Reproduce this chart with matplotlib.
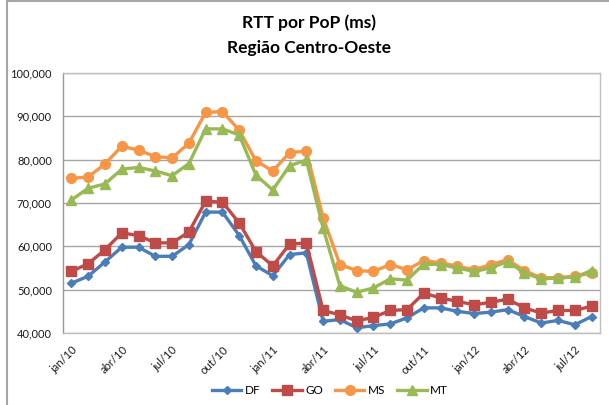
import matplotlib
matplotlib.use("Agg")
import matplotlib.pyplot as plt
from matplotlib.lines import Line2D
from matplotlib.ticker import FuncFormatter

# Dados
months = ["jan/10", "fev/10", "mar/10", "abr/10", "mai/10", "jun/10", "jul/10", "ago/10",
          "set/10", "out/10", "nov/10", "dez/10", "jan/11", "fev/11", "mar/11", "abr/11",
          "mai/11", "jun/11", "jul/11", "ago/11", "set/11", "out/11", "nov/11", "dez/11",
          "jan/12", "fev/12", "mar/12", "abr/12", "mai/12", "jun/12", "jul/12", "ago/12"]

df = [51.5, 53.1, 56.4, 59.8, 59.8, 57.7, 57.7, 60.4, 67.9, 67.9, 62.5, 55.5, 53.2, 58.1, 58.5,
      42.7, 43.1, 41.2, 41.7, 42.1, 43.5, 45.8, 45.8, 45.0, 44.5, 44.8, 45.4, 43.8, 42.3, 42.9,
      41.9, 43.8]
go = [54.2, 56.0, 59.2, 63.1, 62.5, 60.8, 60.8, 63.3, 70.4, 70.2, 65.4, 58.8, 55.5, 60.5, 60.8,
      45.2, 44.2, 42.8, 43.6, 45.2, 45.4, 49.2, 48.1, 47.3, 46.5, 47.1, 47.8, 45.8, 44.6, 45.2,
      45.2, 46.2]
ms = [75.7, 76.0, 79.0, 83.1, 82.2, 80.7, 80.4, 83.8, 90.9, 91.1, 86.8, 79.7, 77.4, 81.6, 82.0,
      66.6, 55.8, 54.4, 54.2, 55.8, 54.6, 56.7, 56.2, 55.4, 54.6, 55.8, 56.9, 54.4, 52.7, 52.8,
      53.1, 53.8]
mt = [70.7, 73.4, 74.4, 77.8, 78.2, 77.4, 76.3, 79.1, 87.1, 87.1, 85.7, 76.4, 73.0, 78.6, 79.9,
      64.2, 50.9, 49.4, 50.4, 52.5, 52.2, 55.9, 55.8, 55.0, 54.2, 55.0, 56.5, 53.8, 52.5, 52.7,
      52.9, 54.4]

series = [
    ("DF", df, "#4A7EBB", "D", 4.5),
    ("GO", go, "#BE4B48", "s", 6.5),
    ("MS", ms, "#F79646", "o", 7),
    ("MT", mt, "#98B954", "^", 7),
]

plt.rcParams["font.family"] = ["Lato", "DejaVu Sans"]

fig = plt.figure(figsize=(6.09, 4.05), dpi=100, facecolor="white")
ax = fig.add_axes([63 / 609, 1 - 333 / 405, 537 / 609, 260 / 405])

x = list(range(len(months)))
for name, vals, color, marker, ms_ in series:
    ax.plot(x, [v * 1000 for v in vals], color=color, linewidth=2.4,
            marker=marker, markersize=ms_, markerfacecolor=color,
            markeredgecolor=color, label=name, zorder=3)

ax.set_xlim(-0.5, len(months) - 0.5)
ax.set_ylim(40000, 100000)
ax.set_yticks(range(40000, 100001, 10000))
ax.yaxis.set_major_formatter(FuncFormatter(lambda v, p: f"{int(v):,}"))
ax.set_xticks(x[::3])
ax.set_xticklabels(months[::3], rotation=45, ha="right", rotation_mode="anchor")
ax.tick_params(axis="both", length=0, labelsize=8, colors="#1a1a1a")
ax.tick_params(axis="x", pad=8)
ax.tick_params(axis="y", pad=8)
ax.yaxis.grid(True, color="#A6A6A6", linewidth=1)
ax.set_axisbelow(True)
for spine in ax.spines.values():
    spine.set_color("#BFBFBF")
    spine.set_linewidth(1)
ax.spines["left"].set_color("#999999")

fig.text(309 / 609, 1 - 23 / 405, "RTT por PoP (ms)", ha="center", va="center",
         fontsize=12.5, fontweight="bold", color="black")
fig.text(309 / 609, 1 - 48 / 405, "Região Centro-Oeste", ha="center", va="center",
         fontsize=12.5, fontweight="bold", color="black")

handles = [Line2D([0], [0], color=c, linewidth=2.4, marker=m, markersize=s,
                  markerfacecolor=c, markeredgecolor=c, label=n)
           for n, _, c, m, s in series]
fig.legend(handles=handles, loc="center", bbox_to_anchor=(330 / 609, 1 - 391 / 405),
           ncol=4, frameon=False, fontsize=8.5, handlelength=2.5, columnspacing=1.0,
           handletextpad=0.3)

# Moldura do gráfico
fig.add_artist(Line2D([7 / 609, 7 / 609], [0, 1], transform=fig.transFigure,
                      color="#A6A6A6", linewidth=1.5))
fig.add_artist(Line2D([7 / 609, 1], [1 - 1 / 405, 1 - 1 / 405], transform=fig.transFigure,
                      color="#A6A6A6", linewidth=1.5))

fig.savefig("out.png", dpi=100, facecolor="white")
